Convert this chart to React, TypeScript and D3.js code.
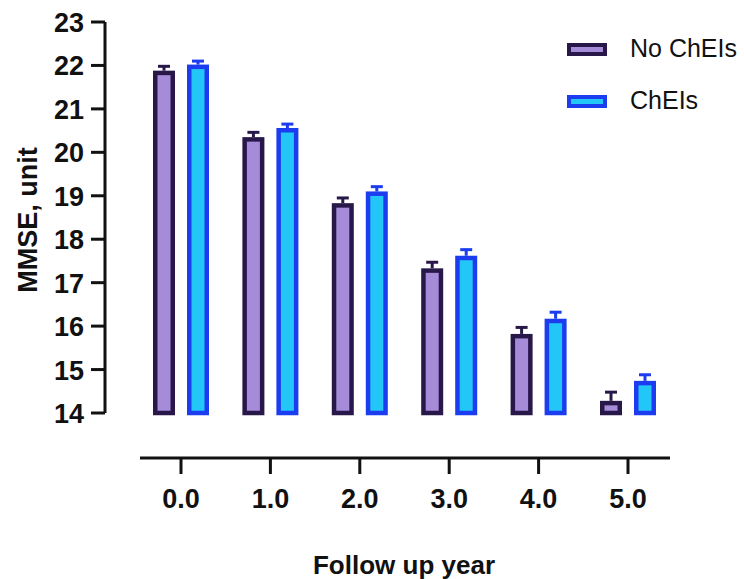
import * as d3 from "d3";

const years = ["0.0", "1.0", "2.0", "3.0", "4.0", "5.0"];
const seriesNames = ["No ChEIs", "ChEIs"];
const noChEIs = [21.88, 20.35, 18.83, 17.33, 15.82, 14.28];
const noChEIsErr = [0.1, 0.11, 0.12, 0.14, 0.15, 0.2];
const chEIs = [22.02, 20.56, 19.1, 17.62, 16.17, 14.74];
const chEIsErr = [0.08, 0.09, 0.11, 0.14, 0.15, 0.14];
const yTicks = [14, 15, 16, 17, 18, 19, 20, 21, 22, 23];

const strokeCols = ["#28184a", "#1c3cf0"];
const fillCols = ["#a58bd8", "#22c6f7"];

const font = "'Liberation Sans', Arial, sans-serif";

const App = () => {
  const W = 744;
  const H = 579;

  const y = d3.scaleLinear().domain([14, 23]).range([413, 22]);
  const x = d3.scalePoint().domain(years).range([181, 628]);
  const inner = d3.scaleBand().domain(seriesNames).range([-28, 28]).paddingInner(0.353);

  const values = [noChEIs, chEIs];
  const errs = [noChEIsErr, chEIsErr];
  const sw = 4.5;

  return (
    <svg width={W} height={H} style={{ position: "absolute", left: 0, top: 0, background: "#fff" }}>
      {/* y axis */}
      <line x1={105} x2={105} y1={y(23)} y2={y(14)} stroke="#111" strokeWidth={3} />
      {yTicks.map((t) => (
        <g key={t}>
          <line x1={91} x2={105} y1={y(t)} y2={y(t)} stroke="#111" strokeWidth={3} />
          <text x={84} y={y(t) + 10} textAnchor="end" fontFamily={font} fontWeight="bold" fontSize={27} fill="#111">
            {t}
          </text>
        </g>
      ))}
      <text
        transform={`translate(37,220) rotate(-90)`}
        textAnchor="middle"
        fontFamily={font}
        fontWeight="bold"
        fontSize={27}
        fill="#111"
      >
        MMSE, unit
      </text>

      {/* x axis */}
      <line x1={140} x2={670} y1={458} y2={458} stroke="#111" strokeWidth={3} />
      {years.map((yr) => (
        <g key={yr}>
          <line x1={x(yr)} x2={x(yr)} y1={458} y2={474} stroke="#111" strokeWidth={3} />
          <text x={x(yr)} y={508} textAnchor="middle" fontFamily={font} fontWeight="bold" fontSize={27} fill="#111">
            {yr}
          </text>
        </g>
      ))}
      <text x={404} y={574} textAnchor="middle" fontFamily={font} fontWeight="bold" fontSize={26} fill="#111">
        Follow up year
      </text>

      {/* bars */}
      {seriesNames.map((s, si) =>
        years.map((yr, i) => {
          const bx = (x(yr) as number) + (inner(s) as number);
          const bw = inner.bandwidth();
          const top = y(values[si][i]);
          const cx = bx + bw / 2;
          const et = y(values[si][i] + errs[si][i]);
          return (
            <g key={s + yr}>
              <line x1={cx} x2={cx} y1={top} y2={et} stroke={strokeCols[si]} strokeWidth={3} />
              <line x1={cx - 6} x2={cx + 6} y1={et} y2={et} stroke={strokeCols[si]} strokeWidth={3} />
              <rect
                x={bx + sw / 2}
                y={top + sw / 2}
                width={bw - sw}
                height={y(14) - top - sw / 2}
                fill={fillCols[si]}
                stroke={strokeCols[si]}
                strokeWidth={sw}
              />
            </g>
          );
        })
      )}

      {/* legend */}
      {seriesNames.map((s, si) => (
        <g key={s} transform={`translate(0,${si * 52})`}>
          <rect x={569} y={45} width={36} height={9} fill={fillCols[si]} stroke={strokeCols[si]} strokeWidth={4} />
          <text x={630} y={57} fontFamily={font} fontSize={25} fill="#111">
            {s}
          </text>
        </g>
      ))}
    </svg>
  );
};

export default App;
